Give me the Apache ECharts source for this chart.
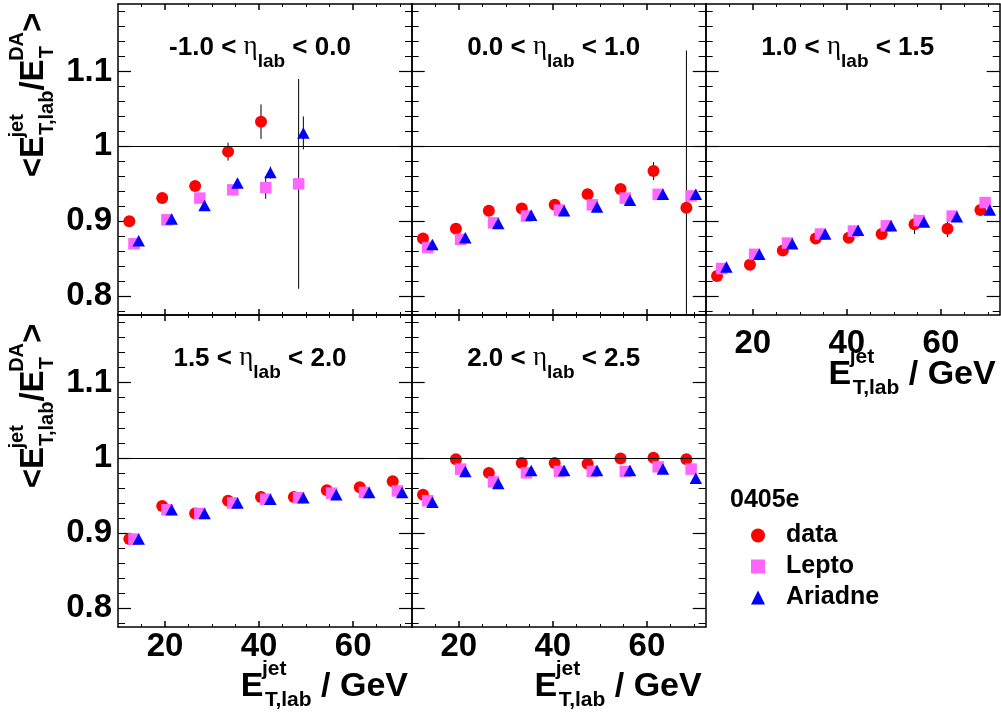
<!DOCTYPE html>
<html><head><meta charset="utf-8">
<script src="https://cdn.jsdelivr.net/npm/echarts@6/dist/echarts.min.js"></script>
<style>html,body{margin:0;padding:0;background:#fff}#c{width:1001px;height:717px}</style>
</head><body><div id="c"></div>
<script>
// ---------------- data ----------------
const etaLow  = ['-1.0', '0.0', '1.0', '1.5', '2.0'];
const etaHigh = ['0.0', '1.0', '1.5', '2.0', '2.5'];
const seriesNames = ['data', 'Lepto', 'Ariadne'];
const legendHeader = '0405e';

const xData    = [12.4, 19.4, 26.4, 33.4, 40.4, 47.4, 54.4, 61.4, 68.4];
const xLepto   = [13.4, 20.4, 27.4, 34.4, 41.4, 48.4, 55.4, 62.4, 69.4];
const xAriadne = [14.4, 21.4, 28.4, 35.4, 42.4, 49.4, 56.4, 63.4, 70.4];

const xTickMajor = [20, 40, 60];
const xTickMinor = [15, 25, 30, 35, 45, 50, 55, 65, 70];
const yTickMajor = [0.8, 0.9, 1.0, 1.1];
const yTickMinor = [0.78, 0.82, 0.84, 0.86, 0.88, 0.92, 0.94, 0.96, 0.98, 1.02, 1.04, 1.06, 1.08, 1.12, 1.14, 1.16, 1.18];
const refValue = 1;

// panel 1: -1.0 < eta < 0.0
const p1Data       = [0.900, 0.931, 0.947, 0.993, 1.033];
const p1DataErr    = [0.003, 0.004, 0.005, 0.012, 0.023];
const p1Lepto      = [0.870, 0.902, 0.931, 0.942, 0.945, 0.950];
const p1LeptoErr   = [0.003, 0.003, 0.004, 0.006, 0.015, 0.140];
const p1Ariadne    = [0.874, 0.903, 0.921, 0.951, 0.965, 1.018];
const p1AriadneErr = [0.003, 0.003, 0.004, 0.006, 0.008, 0.022];
// panel 2: 0.0 < eta < 1.0
const p2Data       = [0.877, 0.890, 0.914, 0.917, 0.922, 0.936, 0.943, 0.967, 0.918];
const p2DataErr    = [0.002, 0.002, 0.003, 0.003, 0.003, 0.004, 0.005, 0.012, 0.210];
const p2Lepto      = [0.865, 0.876, 0.898, 0.907, 0.915, 0.922, 0.931, 0.936, 0.934];
const p2LeptoErr   = [0.002, 0.002, 0.002, 0.003, 0.003, 0.003, 0.004, 0.005, 0.006];
const p2Ariadne    = [0.869, 0.878, 0.897, 0.908, 0.914, 0.919, 0.928, 0.936, 0.936];
const p2AriadneErr = [0.002, 0.002, 0.002, 0.003, 0.003, 0.003, 0.004, 0.005, 0.006];
// panel 3: 1.0 < eta < 1.5
const p3Data       = [0.827, 0.842, 0.861, 0.877, 0.878, 0.883, 0.896, 0.890, 0.915];
const p3DataErr    = [0.003, 0.003, 0.004, 0.005, 0.006, 0.008, 0.013, 0.011, 0.007];
const p3Lepto      = [0.837, 0.856, 0.871, 0.883, 0.887, 0.894, 0.901, 0.907, 0.925];
const p3LeptoErr   = [0.002, 0.002, 0.002, 0.003, 0.003, 0.003, 0.004, 0.004, 0.005];
const p3Ariadne    = [0.839, 0.856, 0.870, 0.883, 0.888, 0.894, 0.899, 0.906, 0.915];
const p3AriadneErr = [0.002, 0.002, 0.002, 0.003, 0.003, 0.003, 0.004, 0.004, 0.005];
// panel 4: 1.5 < eta < 2.0
const p4Data       = [0.892, 0.936, 0.926, 0.943, 0.948, 0.948, 0.957, 0.961, 0.969];
const p4DataErr    = [0.002, 0.002, 0.003, 0.003, 0.003, 0.004, 0.004, 0.005, 0.005];
const p4Lepto      = [0.892, 0.931, 0.926, 0.940, 0.945, 0.947, 0.953, 0.954, 0.956];
const p4LeptoErr   = [0.002, 0.002, 0.002, 0.003, 0.003, 0.003, 0.003, 0.004, 0.004];
const p4Ariadne    = [0.892, 0.931, 0.926, 0.940, 0.945, 0.947, 0.951, 0.954, 0.954];
const p4AriadneErr = [0.002, 0.002, 0.002, 0.003, 0.003, 0.003, 0.003, 0.004, 0.004];
// panel 5: 2.0 < eta < 2.5
const p5Data       = [0.951, 0.998, 0.980, 0.993, 0.993, 0.992, 0.999, 1.000, 0.998];
const p5DataErr    = [0.002, 0.002, 0.003, 0.003, 0.003, 0.004, 0.004, 0.005, 0.005];
const p5Lepto      = [0.943, 0.985, 0.968, 0.980, 0.982, 0.982, 0.982, 0.988, 0.985];
const p5LeptoErr   = [0.002, 0.002, 0.002, 0.003, 0.003, 0.003, 0.003, 0.004, 0.004];
const p5Ariadne    = [0.941, 0.982, 0.966, 0.983, 0.983, 0.983, 0.983, 0.985, 0.973];
const p5AriadneErr = [0.002, 0.002, 0.002, 0.003, 0.003, 0.003, 0.003, 0.004, 0.004];

// ---------------- layout / style ----------------
const panelsData = [
  [p1Data, p1DataErr, p1Lepto, p1LeptoErr, p1Ariadne, p1AriadneErr],
  [p2Data, p2DataErr, p2Lepto, p2LeptoErr, p2Ariadne, p2AriadneErr],
  [p3Data, p3DataErr, p3Lepto, p3LeptoErr, p3Ariadne, p3AriadneErr],
  [p4Data, p4DataErr, p4Lepto, p4LeptoErr, p4Ariadne, p4AriadneErr],
  [p5Data, p5DataErr, p5Lepto, p5LeptoErr, p5Ariadne, p5AriadneErr]
];
const FF = "'Liberation Sans', Arial, Helvetica, sans-serif";
const GREEK = "'Liberation Serif', 'DejaVu Serif', serif";
const colL = [118, 411.7, 705.7], colW = 294;
const rowT = [4, 315], rowH = [311, 312];
const geo = [[0,0],[1,0],[2,0],[0,1],[1,1]].map(([c,r]) => ({left: colL[c], top: rowT[r], width: colW, height: rowH[r]}));
const xLabelPanels = {2: 12, 3: 3, 4: 3};   // panel -> label margin
const yLabelPanels = [0, 3];
const colors = ['#ff0000', '#ff66ff', '#0000ff'];
const symbols = ['circle', 'rect', 'triangle'];
const symSizes = [12, 11.5, [12.5, 11.5]];
const xsets = [xData, xLepto, xAriadne];

const mctx = document.createElement('canvas').getContext('2d');
function fontStr(size, weight, family) { return (weight || 'bold') + ' ' + size + 'px ' + (family || FF); }
function tw(t, f) { mctx.font = f; return mctx.measureText(t).width; }
function txt(t, x, base, size, weight, family) {
  return {type: 'text', x: x, y: base - 0.3465 * size, silent: true,
    style: {text: t, font: fontStr(size, weight, family), fill: '#000', align: 'left', verticalAlign: 'middle'}};
}
function layout(pieces) {
  let x = 0; const ch = [];
  for (const p of pieces) {
    if (p.t !== undefined) {
      ch.push(txt(p.t, x, p.dy || 0, p.size, p.weight, p.family));
      x += tw(p.t, fontStr(p.size, p.weight, p.family));
    } else {
      const f = fontStr(p.size); let w = 0;
      if (p.sup) { ch.push(txt(p.sup, x + (p.supDx || 0), p.supDy, p.size)); w = Math.max(w, (p.supDx || 0) + tw(p.sup, f)); }
      if (p.sub) { ch.push(txt(p.sub, x + (p.subDx || 0), p.subDy, p.size)); w = Math.max(w, (p.subDx || 0) + tw(p.sub, f)); }
      x += w;
    }
  }
  return {children: ch, width: x};
}

const grids = [], xAxes = [], yAxes = [], series = [], graphics = [];
const lineBlack = w => ({color: '#000', width: w});

geo.forEach((g, i) => {
  grids.push({left: g.left, top: g.top, width: g.width, height: g.height, containLabel: false});
  const xb = {type: 'value', gridIndex: i, min: 10, max: 72.5, splitLine: {show: false}, axisLabel: {show: false},
    axisLine: {show: true, onZero: false, lineStyle: lineBlack(1.5)}};
  const xm = {...xb, axisLine: {show: false}};
  const hasXL = xLabelPanels[i] !== undefined;
  xAxes.push({...xb, position: 'bottom',
    axisTick: {show: true, inside: true, length: 6, customValues: xTickMajor, lineStyle: lineBlack(1.5)},
    axisLabel: hasXL ? {show: true, customValues: xTickMajor, margin: xLabelPanels[i], fontSize: 33, fontWeight: 'bold', fontFamily: FF, color: '#000'} : {show: false}});
  xAxes.push({...xm, position: 'bottom', axisTick: {show: true, inside: true, length: 3, customValues: xTickMinor, lineStyle: lineBlack(1)}});
  xAxes.push({...xb, position: 'top', axisTick: {show: true, inside: true, length: 6, customValues: xTickMajor, lineStyle: lineBlack(1.5)}});
  xAxes.push({...xm, position: 'top', axisTick: {show: true, inside: true, length: 3, customValues: xTickMinor, lineStyle: lineBlack(1)}});

  const yb = {type: 'value', gridIndex: i, min: 0.775, max: 1.19, splitLine: {show: false}, axisLabel: {show: false},
    axisLine: {show: true, onZero: false, lineStyle: lineBlack(1.5)}};
  const ym = {...yb, axisLine: {show: false}};
  const hasYL = yLabelPanels.includes(i);
  yAxes.push({...yb, position: 'left',
    axisTick: {show: true, inside: true, length: 13, customValues: yTickMajor, lineStyle: lineBlack(1.2)},
    axisLabel: hasYL ? {show: true, customValues: yTickMajor, margin: 6, fontSize: 33, fontWeight: 'bold', fontFamily: FF, color: '#000',
      formatter: v => (Math.abs(v - 1) < 1e-9 ? '1' : v.toFixed(1))} : {show: false}});
  yAxes.push({...ym, position: 'left', axisTick: {show: true, inside: true, length: 7, customValues: yTickMinor, lineStyle: lineBlack(1)}});
  yAxes.push({...yb, position: 'right', axisTick: {show: true, inside: true, length: 13, customValues: yTickMajor, lineStyle: lineBlack(1.2)}});
  yAxes.push({...ym, position: 'right', axisTick: {show: true, inside: true, length: 7, customValues: yTickMinor, lineStyle: lineBlack(1)}});

  const ax = {xAxisIndex: 4 * i, yAxisIndex: 4 * i};
  const pd = panelsData[i];
  // error bars
  for (let s = 0; s < 3; s++) {
    const vals = pd[2 * s], errs = pd[2 * s + 1], xs = xsets[s];
    series.push({type: 'custom', ...ax, silent: true, z: 1, encode: {x: 0, y: 1},
      data: vals.map((v, j) => [xs[j], v, errs[j]]),
      renderItem: (params, api) => {
        const x = api.value(0), y = api.value(1), e = api.value(2);
        const a = api.coord([x, y + e]), b = api.coord([x, y - e]);
        const cs = params.coordSys;
        const y1 = Math.max(cs.y, a[1]), y2 = Math.min(cs.y + cs.height, b[1]);
        return {type: 'line', shape: {x1: a[0], y1: y1, x2: a[0], y2: y2}, style: {stroke: '#000', lineWidth: 1}};
      }});
  }
  for (let s = 0; s < 3; s++) {
    const vals = pd[2 * s], xs = xsets[s];
    const ser = {type: 'scatter', name: seriesNames[s], ...ax, z: 2 + s, symbol: symbols[s], symbolSize: symSizes[s],
      itemStyle: {color: colors[s], opacity: 1}, emphasis: {disabled: true},
      data: vals.map((v, j) => [xs[j], v])};
    if (s === 0) {
      ser.markLine = {silent: true, symbol: ['none', 'none'], label: {show: false}, animation: false,
        lineStyle: {color: '#000', width: 1.2, type: 'solid'}, emphasis: {disabled: true}, data: [{yAxis: refValue}]};
    }
    series.push(ser);
  }

  // panel title
  const tl = layout([
    {t: etaLow[i] + ' < ', size: 26},
    {t: 'η', size: 27, weight: 'normal', family: GREEK},
    {t: 'lab', size: 19, dy: 11.6},
    {t: ' < ' + etaHigh[i], size: 26}
  ]);
  graphics.push({type: 'group', x: g.left + g.width / 2 - 5 - tl.width / 2, y: g.top + 52.7, children: tl.children, silent: true});

  // x axis title
  if (hasXL) {
    const xt = layout([
      {t: 'E', size: 34},
      {sup: 'jet', sub: 'T,lab', size: 21, supDy: -21.5, subDy: 9.5, supDx: -1.5, subDx: 1.5},
      {t: ' / GeV', size: 34}
    ]);
    graphics.push({type: 'group', x: g.left + g.width - 4 - xt.width, y: g.top + g.height + 71, children: xt.children, silent: true});
  }
  // y axis title
  if (hasYL) {
    const yt = layout([
      {t: '<', size: 33},
      {t: 'E', size: 33},
      {sup: 'jet', sub: 'T,lab', size: 20, supDy: -21, subDy: 9.5, supDx: -1.5, subDx: 1},
      {t: '/', size: 33},
      {t: 'E', size: 33},
      {sup: 'DA', sub: 'T', size: 20, supDy: -21, subDy: 9.5, supDx: -1.5, subDx: 1},
      {t: '>', size: 33}
    ]);
    graphics.push({type: 'group', rotation: Math.PI / 2, x: 45, y: g.top + 91 + yt.width / 2, children: yt.children, silent: true});
  }
});

// legend header
graphics.push(txt(legendHeader, 730, 508.3, 25));

const chart = echarts.init(document.getElementById('c'), null, {renderer: 'canvas'});
chart.setOption({
  animation: false,
  backgroundColor: '#fff',
  grid: grids, xAxis: xAxes, yAxis: yAxes, series: series,
  legend: {show: true, orient: 'vertical', left: 746, top: 518, itemWidth: 14, itemHeight: 14, itemGap: 6,
    selectedMode: false,
    textStyle: {fontSize: 25, fontWeight: 'bold', fontFamily: FF, color: '#000', lineHeight: 25, padding: [0, 0, 0, 16]},
    data: seriesNames.map((n, s) => ({name: n, icon: symbols[s]}))},
  graphic: graphics
});
</script></body></html>
